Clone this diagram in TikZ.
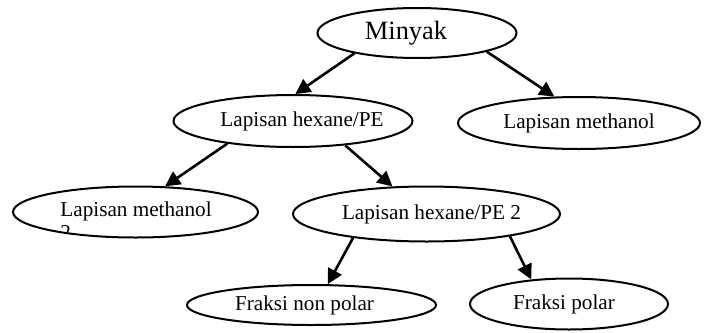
\documentclass[tikz,border=0pt]{standalone}
\usepackage{fontspec}
\setmainfont{Liberation Serif}
\usetikzlibrary{arrows.meta, shapes.geometric}

\begin{document}
\begin{tikzpicture}
  [x=0.5pt, y=-0.5pt,
   oval/.style={ellipse, draw=black, line width=1pt, inner sep=0pt, font=\fontsize{10.6}{12.5}\selectfont},
   link/.style={line width=1.3pt, -{Triangle[length=7.5pt, width=7.5pt]}}]

  \useasboundingbox (0,0) rectangle (711,332);

  \node[oval, minimum width=99.5pt, minimum height=25pt, font=\fontsize{13.2}{15}\selectfont] (oil) at (417,33) {\makebox[0pt]{Minyak\hspace*{11pt}}};
  \node[oval, minimum width=119.5pt, minimum height=26pt] (hex) at (293,121) {\makebox[0pt]{\hspace*{9pt}Lapisan hexane/PE}};
  \node[oval, minimum width=121pt, minimum height=26pt] (meth) at (579,123) {Lapisan methanol};
  \node[oval, minimum width=122.5pt, minimum height=25.5pt] (meth2) at (135.5,212) {};
  \node[oval, minimum width=133.5pt, minimum height=27.5pt] (hex2) at (426.5,214) {\makebox[0pt]{\hspace*{5pt}Lapisan hexane/PE 2}};
  \node[oval, minimum width=124.5pt, minimum height=20pt] (nonpol) at (311.5,305) {\makebox[0pt]{Fraksi non polar\hspace*{7pt}}};
  \node[oval, minimum width=99pt, minimum height=25.5pt] (pol) at (569,304) {\makebox[0pt]{Fraksi polar\hspace*{5pt}}};

  \begin{scope}
    \clip (50,195) rectangle (230,231);
    \node[anchor=north west, inner sep=0pt, align=left, font=\fontsize{10.6}{11.5}\selectfont] (meth2txt) at (60,201) {Lapisan methanol\\2};
  \end{scope}

  \foreach \from/\to in {oil.198/hex.85, oil.345/meth.133, hex.199/meth2.41, hex.335/hex2.141, hex2.198/nonpol.52, hex2.345/pol.147}
    \draw[link] (\from) -- (\to);
\end{tikzpicture}
\end{document}
